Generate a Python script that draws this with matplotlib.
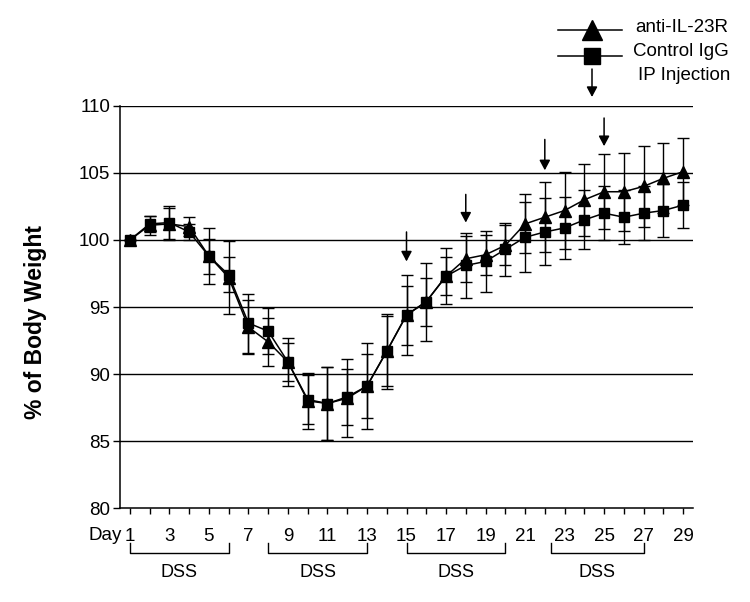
import matplotlib
matplotlib.use('Agg')
from matplotlib import pyplot as plt
from matplotlib.lines import Line2D

plt.rcParams['font.family'] = ['Liberation Sans', 'DejaVu Sans']

# data
days = list(range(1, 30))
anti = [100.0, 101.1, 101.2, 101.0, 98.8, 97.2, 93.5, 92.4, 90.9, 88.0,
        87.8, 88.2, 89.1, 91.7, 94.4, 95.4, 97.3, 98.6, 98.9, 99.6,
        101.2, 101.7, 102.2, 103.0, 103.6, 103.6, 104.0, 104.6, 105.1]
anti_err = [0, 0.7, 1.2, 0.7, 2.1, 2.7, 2.0, 1.8, 1.8, 2.1,
            2.7, 2.9, 3.2, 2.8, 3.0, 2.9, 2.1, 1.7, 1.5, 1.5,
            2.2, 2.6, 2.9, 2.7, 2.8, 2.9, 3.0, 2.6, 2.5]
ctrl = [100.0, 101.2, 101.3, 100.6, 98.8, 97.4, 93.8, 93.2, 90.9, 88.1,
        87.8, 88.3, 89.1, 91.7, 94.4, 95.4, 97.3, 98.1, 98.4, 99.3,
        100.2, 100.6, 100.9, 101.5, 102.0, 101.7, 102.0, 102.2, 102.6]
ctrl_err = [0, 0.6, 1.2, 0.6, 1.3, 1.3, 2.2, 1.7, 1.4, 1.8,
            2.7, 2.1, 2.4, 2.6, 2.2, 1.8, 1.4, 2.4, 2.3, 2.0,
            2.6, 2.5, 2.3, 2.2, 2.0, 2.0, 2.0, 2.0, 1.7]

inject_days = [15, 18, 22, 25]
arrow_top = [100.6, 103.4, 107.5, 109.1]
arrow_tip = [98.4, 101.3, 105.2, 107.0]

dss_start = [1, 8, 15, 22.3]
dss_end = [6, 13, 20, 27]

y_ticks = [80, 85, 90, 95, 100, 105, 110]
x_ticks = list(range(1, 30, 2))

fig = plt.figure(figsize=(7.5, 6.02), dpi=100)
ax = fig.add_axes([0.16, 0.156, 0.764, 0.668])

for y in y_ticks[1:]:
    ax.axhline(y, color='black', lw=1.0, zorder=1)

ax.errorbar(days, anti, yerr=anti_err, color='black', marker='^', ms=8,
            lw=1.1, elinewidth=1.0, capsize=4.3, capthick=1.0, zorder=3)
ax.errorbar(days, ctrl, yerr=ctrl_err, color='black', marker='s', ms=7.5,
            lw=1.1, elinewidth=1.0, capsize=4.3, capthick=1.0, zorder=4)

for d, top, tip in zip(inject_days, arrow_top, arrow_tip):
    ax.annotate('', xy=(d, tip), xytext=(d, top),
                arrowprops=dict(arrowstyle='-|>,head_width=0.32,head_length=0.6',
                                color='black', lw=1.1, shrinkA=0, shrinkB=0))

ax.set_xlim(0.5, 29.5)
ax.set_ylim(80, 110)
ax.set_yticks(y_ticks)
ax.set_xticks(x_ticks)
ax.set_xticks(days, minor=True)
ax.tick_params(axis='y', direction='out', length=5, width=1, labelsize=13.5, pad=2)
ax.tick_params(axis='x', which='both', direction='out', length=4, width=1,
               labelsize=13.5, pad=10)
for s in ['top', 'right']:
    ax.spines[s].set_visible(False)
for s in ['left', 'bottom']:
    ax.spines[s].set_linewidth(1.1)

ax.annotate('Day', xy=(1, 0), xycoords=('data', 'axes fraction'),
            xytext=(-6, -13.5), textcoords='offset points',
            ha='right', va='top', fontsize=13.5)

ax.set_ylabel('% of Body Weight', fontsize=16.5, fontweight='bold')
ax.yaxis.set_label_coords(-0.128, 0.463)

# DSS brackets under the axis
tr = ax.get_xaxis_transform()
for a, b in zip(dss_start, dss_end):
    ax.plot([a, a, b, b], [-0.087, -0.112, -0.112, -0.087], color='black',
            lw=1.0, transform=tr, clip_on=False)
    ax.text((a + b) / 2, -0.161, 'DSS', transform=tr, ha='center', va='center',
            fontsize=13)

# legend drawn by hand at top right
x0, x1, xm = 558 / 750, 622 / 750, 592 / 750
fig.add_artist(Line2D([x0, x1], [1 - 30 / 602] * 2, color='black', lw=1.1))
fig.add_artist(Line2D([xm], [1 - 30 / 602], color='black', marker='^', ms=14))
fig.add_artist(Line2D([x0, x1], [1 - 56 / 602] * 2, color='black', lw=1.1))
fig.add_artist(Line2D([xm], [1 - 56 / 602], color='black', marker='s', ms=12))
fig.text(635 / 750, 1 - 28 / 602, 'anti-IL-23R', fontsize=13.5, va='center')
fig.text(633 / 750, 1 - 52 / 602, 'Control IgG', fontsize=13.5, va='center')
fig.text(638 / 750, 1 - 75 / 602, 'IP Injection', fontsize=13.5, va='center')
fig.add_artist(matplotlib.patches.FancyArrowPatch(
    (xm, 1 - 69 / 602), (xm, 1 - 97 / 602), transform=fig.transFigure,
    arrowstyle='-|>,head_width=0.32,head_length=0.6', mutation_scale=10,
    color='black', lw=1.1, shrinkA=0, shrinkB=0))

plt.savefig('out.png', dpi=100)
